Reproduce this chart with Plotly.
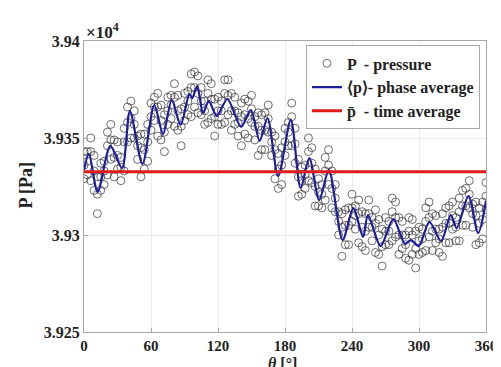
import plotly.graph_objects as go

# ---- phase-average curve ----
curve_theta = [0, 4.4, 12.2, 23.6, 34.1, 41.1, 52.4, 62.9, 70.8, 78.6, 86.5, 94.4, 97.0, 101.4,
               106.6, 111.8, 118.8, 128.4, 140.7, 149.4, 157.3, 164.3, 173.9, 185.2, 194.0,
               201.8, 210.6, 219.3, 231.6, 241.2, 249.9, 254.3, 265.6, 277.0, 287.5, 292.7,
               299.7, 309.3, 319.8, 328.5, 333.8, 344.3, 353.0, 360]
curve_p = [39333.5, 39341.8, 39322.2, 39345.9, 39334.5, 39363.9, 39336.6, 39367.0, 39352.1,
           39369.6, 39356.7, 39372.7, 39370.6, 39376.8, 39362.9, 39369.1, 39361.3, 39370.1,
           39355.7, 39364.4, 39348.5, 39360.3, 39330.4, 39359.3, 39324.2, 39339.7, 39318.0,
           39333.5, 39297.4, 39313.9, 39299.0, 39310.3, 39294.3, 39308.2, 39295.4, 39297.4,
           39294.3, 39306.7, 39296.9, 39310.3, 39303.6, 39320.1, 39301.0, 39317.5]

# ---- time average ----
time_avg = 39332.6
avg_theta = [0, 360]

# ---- raw pressure samples (three per angle, read/estimated) ----
scatter_theta = list(range(0, 361, 3))
scatter_p = [
    [39343, 39329, 39336], [39331, 39343, 39338], [39350, 39328, 39343], [39333, 39323, 39341],
    [39311, 39330, 39321], [39337, 39323, 39330], [39326, 39338, 39333], [39353, 39331, 39346],
    [39349, 39339, 39357], [39330, 39349, 39340], [39348, 39334, 39341], [39328, 39340, 39335],
    [39355, 39333, 39348], [39358, 39348, 39366], [39350, 39369, 39360], [39364, 39350, 39357],
    [39339, 39351, 39346], [39352, 39330, 39345], [39344, 39334, 39352], [39338, 39357, 39348],
    [39368, 39354, 39361], [39359, 39371, 39366], [39373, 39351, 39366], [39359, 39349, 39367],
    [39343, 39362, 39353], [39371, 39357, 39364], [39360, 39372, 39367], [39378, 39356, 39371],
    [39364, 39354, 39372], [39346, 39365, 39356], [39373, 39359, 39366], [39362, 39374, 39369],
    [39383, 39361, 39376], [39376, 39366, 39384], [39363, 39382, 39373], [39376, 39362, 39369],
    [39357, 39369, 39364], [39380, 39358, 39373], [39370, 39360, 39378], [39351, 39370, 39361],
    [39371, 39357, 39364], [39357, 39369, 39364], [39380, 39358, 39373], [39372, 39362, 39380],
    [39354, 39373, 39364], [39371, 39357, 39364], [39351, 39363, 39358], [39368, 39346, 39361],
    [39362, 39352, 39370], [39350, 39369, 39360], [39372, 39358, 39365], [39349, 39361, 39356],
    [39363, 39341, 39356], [39354, 39344, 39362], [39344, 39363, 39354], [39367, 39353, 39360],
    [39341, 39353, 39348], [39351, 39329, 39344], [39334, 39324, 39342], [39326, 39345, 39336],
    [39355, 39341, 39348], [39346, 39358, 39353], [39368, 39346, 39361], [39347, 39337, 39355],
    [39320, 39339, 39330], [39335, 39321, 39328], [39324, 39336, 39331], [39350, 39328, 39343],
    [39337, 39327, 39345], [39315, 39334, 39325], [39329, 39315, 39322], [39314, 39326, 39321],
    [39340, 39318, 39333], [39336, 39326, 39344], [39314, 39333, 39324], [39326, 39312, 39319],
    [39300, 39312, 39307], [39311, 39289, 39304], [39305, 39295, 39313], [39295, 39314, 39305],
    [39321, 39307, 39314], [39303, 39315, 39310], [39318, 39296, 39311], [39304, 39294, 39312],
    [39292, 39311, 39302], [39318, 39304, 39311], [39297, 39309, 39304], [39313, 39291, 39306],
    [39300, 39290, 39308], [39284, 39303, 39294], [39309, 39295, 39302], [39295, 39307, 39302],
    [39319, 39297, 39312], [39309, 39299, 39317], [39290, 39309, 39300], [39307, 39293, 39300],
    [39288, 39300, 39295], [39309, 39287, 39302], [39300, 39290, 39308], [39283, 39302, 39293],
    [39304, 39290, 39297], [39291, 39303, 39298], [39314, 39292, 39307], [39309, 39299, 39317],
    [39292, 39311, 39302], [39310, 39296, 39303], [39291, 39303, 39298], [39311, 39289, 39304],
    [39306, 39296, 39314], [39296, 39315, 39306], [39317, 39303, 39310], [39297, 39309, 39304],
    [39319, 39297, 39312], [39315, 39305, 39323], [39305, 39324, 39315], [39328, 39314, 39321],
    [39304, 39316, 39311], [39317, 39295, 39310], [39306, 39296, 39314], [39298, 39317, 39308],
    [39327, 39313, 39320],
]

flat_theta = [t for t, row in zip(scatter_theta, scatter_p) for _ in row]
flat_p = [v for row in scatter_p for v in row]

ytick_vals = [39250, 39300, 39350, 39400]
ytick_text = ["3.925", "3.93", "3.935", "3.94"]
xtick_vals = [0, 60, 120, 180, 240, 300, 360]

FONT = "Liberation Serif"
INK = "#222"

fig = go.Figure()
fig.add_trace(go.Scatter(
    x=flat_theta, y=flat_p, mode="markers", name="<b>P  - pressure</b>",
    marker=dict(symbol="circle-open", size=8, color="rgba(50,50,50,0.7)",
                line=dict(width=1, color="rgba(50,50,50,0.7)")),
))
fig.add_trace(go.Scatter(
    x=curve_theta, y=curve_p, mode="lines", name="<b>⟨p⟩- phase average</b>",
    line=dict(color="#1c1c9c", width=2.2, shape="spline", smoothing=0.8),
))
fig.add_trace(go.Scatter(
    x=avg_theta, y=[time_avg, time_avg], mode="lines", name="<b>p̄  - time average</b>",
    line=dict(color="#e01b1b", width=3),
))

axis_common = dict(
    showline=True, linecolor="#a8a8a8", linewidth=1, mirror=True,
    showgrid=True, gridcolor="#ececec", gridwidth=1, zeroline=False,
    ticks="inside", ticklen=4, tickcolor="#a8a8a8",
)

fig.update_layout(
    width=501, height=367,
    margin=dict(l=76, r=13, t=33, b=43),
    paper_bgcolor="white", plot_bgcolor="white",
    font=dict(family=FONT, color=INK),
    showlegend=True,
    legend=dict(
        x=0.985, y=0.985, xanchor="right", yanchor="top",
        bgcolor="white", bordercolor="#a8a8a8", borderwidth=1,
        font=dict(family=FONT, size=16, color=INK),
        tracegroupgap=0, itemwidth=30,
    ),
    xaxis=dict(range=[0, 360], tickvals=xtick_vals,
               ticktext=["<b>%d</b>" % v for v in xtick_vals],
               tickfont=dict(family=FONT, size=15, color=INK),
               **axis_common),
    yaxis=dict(range=[39250, 39400], tickvals=ytick_vals,
               ticktext=["<b>%s</b>" % t for t in ytick_text],
               tickfont=dict(family=FONT, size=16, color=INK),
               **axis_common),
)

# axis titles and exponent placed as annotations
fig.add_annotation(
    xref="paper", yref="paper", x=0.495, y=-0.107, xanchor="center", yanchor="middle",
    text="<b><i>θ</i> [°]</b>", showarrow=False,
    font=dict(family=FONT, size=16, color=INK),
)
fig.add_annotation(
    xref="paper", yref="paper", x=-0.143, y=0.505, xanchor="center", yanchor="middle",
    text="<b>P [Pa]</b>", showarrow=False, textangle=-90,
    font=dict(family=FONT, size=18, color=INK),
)
fig.add_annotation(
    xref="paper", yref="paper", x=0, y=1, xanchor="left", yanchor="bottom",
    text="<b>×10<sup>4</sup></b>", showarrow=False, yshift=-3,
    font=dict(family=FONT, size=17, color=INK),
)

fig.write_html("out.html")
